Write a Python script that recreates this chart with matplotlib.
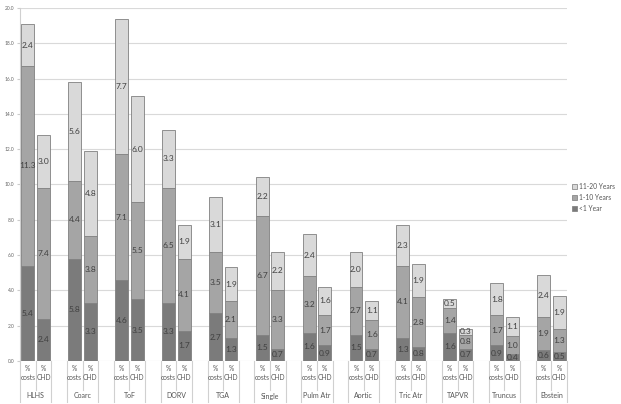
import matplotlib
matplotlib.use("Agg")
import matplotlib.pyplot as plt
import matplotlib.transforms as mtransforms
from matplotlib.patches import Patch
import numpy as np

plt.rcParams['font.family'] = ['Lato', 'DejaVu Sans']

# 先天性心疾患の病型ごと、年齢区分別の割合 (% costs / % CHD)
groups = ["HLHS", "Coarc", "ToF", "DORV", "TGA", "Single", "Pulm Atr",
          "Aortic", "Tric Atr", "TAPVR", "Truncus", "Ebstein"]
sub_labels = ["%\ncosts", "%\nCHD"]

# [costs, CHD] を病型順に
under1 = [5.4, 2.4, 5.8, 3.3, 4.6, 3.5, 3.3, 1.7, 2.7, 1.3, 1.5, 0.7,
          1.6, 0.9, 1.5, 0.7, 1.3, 0.8, 1.6, 0.7, 0.9, 0.4, 0.6, 0.5]
y1_10 = [11.3, 7.4, 4.4, 3.8, 7.1, 5.5, 6.5, 4.1, 3.5, 2.1, 6.7, 3.3,
         3.2, 1.7, 2.7, 1.6, 4.1, 2.8, 1.4, 0.8, 1.7, 1.0, 1.9, 1.3]
y11_20 = [2.4, 3.0, 5.6, 4.8, 7.7, 6.0, 3.3, 1.9, 3.1, 1.9, 2.2, 2.2,
          2.4, 1.6, 2.0, 1.1, 2.3, 1.9, 0.5, 0.3, 1.8, 1.1, 2.4, 1.9]

series = [("<1 Year", under1, "#7b7b7b"),
          ("1-10 Years", y1_10, "#a5a5a5"),
          ("11-20 Years", y11_20, "#d9d9d9")]

# 各グループ: costs, CHD, 空白 の3スロット (最後は空白なし)
x = []
for g in range(len(groups)):
    x += [3 * g, 3 * g + 1]
x = np.array(x)

fig = plt.figure(figsize=(6.21, 4.04), dpi=100)
ax = fig.add_axes([20 / 621, 1 - 361 / 404, 547 / 621, 353 / 404])

bottom = np.zeros(len(x))
for name, vals, col in series:
    vals = np.array(vals)
    ax.bar(x, vals, width=0.82, bottom=bottom, color=col,
           edgecolor="#808080", linewidth=0.6, zorder=3, label=name)
    for xi, b, v in zip(x, bottom, vals):
        ax.text(xi, b + v / 2, "{:.1f}".format(v), ha="center", va="center",
                fontsize=6, color="#404040", zorder=4)
    bottom += vals

ax.set_xlim(-0.5, 3 * len(groups) - 1.5)
ax.set_ylim(0, 20)
ax.set_yticks(np.arange(0, 20.1, 2))
ax.set_yticklabels(["{:.1f}".format(t) for t in np.arange(0, 20.1, 2)],
                   fontsize=3.5, color="#666666")
ax.tick_params(axis="y", length=2, color="#cccccc", pad=2)
ax.set_xticks([])
ax.grid(axis="y", color="#d9d9d9", linewidth=0.8, zorder=0)
for s in ["top", "right", "bottom"]:
    ax.spines[s].set_visible(False)
ax.spines["left"].set_color("#d0d0d0")
ax.spines["left"].set_linewidth(0.8)

# 下の分類表
trans = mtransforms.blended_transform_factory(ax.transData, ax.transAxes)
row1 = -29 / 353
row2 = -41 / 353
lc = "#d0d0d0"
edges = np.arange(-0.5, 3 * len(groups) - 1, 1.0)
for e in edges:
    # costs と CHD の間は上段のみ
    inner = ((e + 0.5) % 3 == 1)
    ax.plot([e, e], [0, row1 if inner else row2], color=lc, linewidth=0.8,
            transform=trans, clip_on=False)
for i, xi in enumerate(x):
    ax.text(xi, -4 / 353, sub_labels[i % 2], transform=trans, ha="center",
            va="top", fontsize=4.8, color="#555555", linespacing=1.4)
for g, name in enumerate(groups):
    ax.text(3 * g + 0.5, -35 / 353, name, transform=trans, ha="center",
            va="center", fontsize=5, color="#555555")

handles = [Patch(facecolor=c, edgecolor="#7a7a7a", linewidth=0.5, label=n)
           for n, v, c in series[::-1]]
fig.legend(handles=handles, loc="upper left", bbox_to_anchor=(572 / 621, 1 - 183 / 404),
           frameon=False, fontsize=4.8, handlelength=0.8, handleheight=0.8,
           handletextpad=0.3, labelspacing=0.6, labelcolor="#555555",
           borderpad=0, borderaxespad=0)

fig.savefig("out.png", dpi=100, facecolor="white")
